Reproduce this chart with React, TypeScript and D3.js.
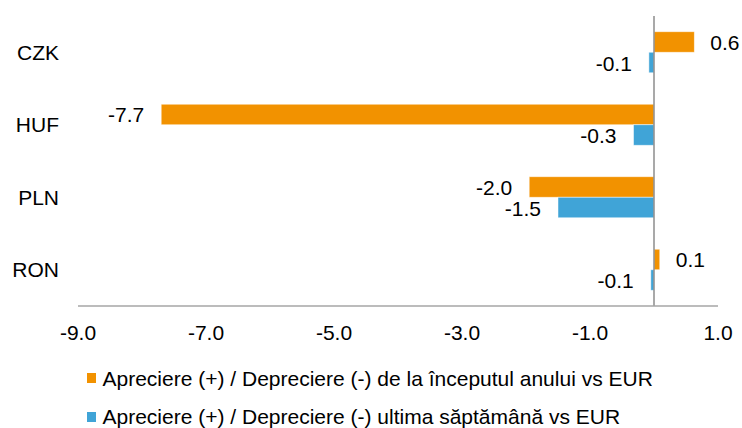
import * as d3 from "d3";

const WIDTH = 742;
const HEIGHT = 428;

const categories = ["CZK", "HUF", "PLN", "RON"];
const sinceYearStart = [0.63, -7.7, -1.95, 0.09];
const lastWeek = [-0.08, -0.32, -1.5, -0.05];
const sinceYearStartLabels = ["0.6", "-7.7", "-2.0", "0.1"];
const lastWeekLabels = ["-0.1", "-0.3", "-1.5", "-0.1"];
const tickValues = [-9, -7, -5, -3, -1, 1];
const seriesNames = [
  "Apreciere (+) / Depreciere (-) de la începutul anului vs EUR",
  "Apreciere (+) / Depreciere (-) ultima săptămână vs EUR",
];
const seriesColors = ["#f29200", "#40a4d7"];

const FONT = "'Liberation Sans', Arial, sans-serif";

const App = () => {
  const x = d3.scaleLinear().domain([-9, 1]).range([78, 718]);
  const y = d3
    .scaleBand<string>()
    .domain(categories)
    .range([16, 306])
    .paddingInner(0.434)
    .paddingOuter(0.217);
  const sub = d3
    .scaleBand<number>()
    .domain([0, 1])
    .range([0, y.bandwidth()]);

  const series = [
    { values: sinceYearStart, labels: sinceYearStartLabels },
    { values: lastWeek, labels: lastWeekLabels },
  ];

  return (
    <div style={{ position: "absolute", left: 0, top: 0 }}>
      <svg width={WIDTH} height={HEIGHT} style={{ display: "block" }} fontFamily={FONT}>
        <rect width={WIDTH} height={HEIGHT} fill="#ffffff" />

        {/* bars */}
        {series.map((s, si) =>
          categories.map((c, i) => {
            const v = s.values[i];
            const x0 = x(Math.min(0, v));
            const x1 = x(Math.max(0, v));
            const top = (y(c) ?? 0) + (sub(si) ?? 0);
            const h = sub.bandwidth();
            const cy = top + h / 2;
            return (
              <g key={`${si}-${c}`}>
                <rect
                  x={x0}
                  y={top}
                  width={Math.max(1, x1 - x0)}
                  height={h}
                  fill={seriesColors[si]}
                  stroke="#ffffff"
                  strokeOpacity={0.6}
                  strokeWidth={0.8}
                />
                <text
                  x={v >= 0 ? x1 + 16 : x0 - 17}
                  y={cy + 8}
                  textAnchor={v >= 0 ? "start" : "end"}
                  fontSize={21}
                  fill="#000"
                >
                  {s.labels[i]}
                </text>
              </g>
            );
          })
        )}

        {/* zero line */}
        <line x1={x(0)} x2={x(0)} y1={16} y2={306} stroke="#8c8c8c" strokeWidth={1.5} />

        {/* x axis */}
        <line x1={x(-9)} x2={x(1)} y1={306} y2={306} stroke="#a6a6a6" strokeWidth={1.5} />
        {tickValues.map((t) => (
          <text key={t} x={x(t)} y={340} textAnchor="middle" fontSize={21} fill="#000">
            {d3.format(".1f")(t).replace("−", "-")}
          </text>
        ))}

        {/* category labels */}
        {categories.map((c) => (
          <text
            key={c}
            x={59}
            y={(y(c) ?? 0) + y.bandwidth() / 2 + 7.5}
            textAnchor="end"
            fontSize={21}
            fill="#000"
          >
            {c}
          </text>
        ))}

        {/* legend */}
        {seriesNames.map((name, i) => (
          <g key={name} transform={`translate(87, ${373 + i * 39})`}>
            <rect x={0} y={0} width={9} height={10} fill={seriesColors[i]} />
            <text x={15.5} y={13 - i} fontSize={21} fill="#000">
              {name}
            </text>
          </g>
        ))}
      </svg>
    </div>
  );
};

export default App;
